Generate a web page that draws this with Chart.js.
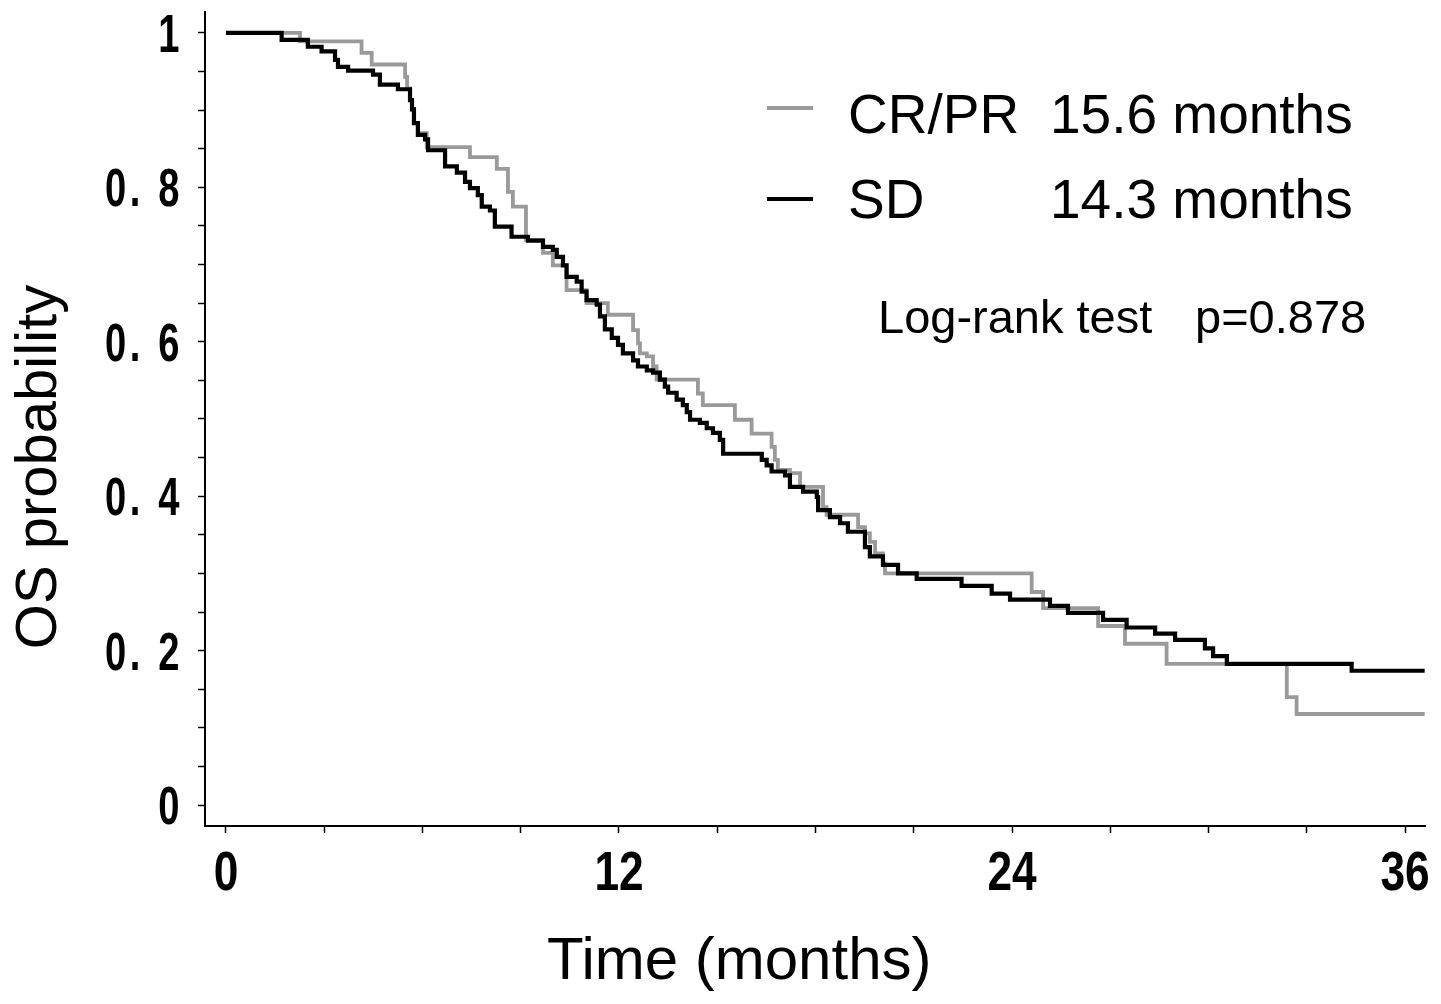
<!DOCTYPE html>
<html><head><meta charset="utf-8">
<script src="https://cdn.jsdelivr.net/npm/chart.js@4"></script>
<style>html,body{margin:0;padding:0;background:#fff}canvas{display:block}</style>
</head><body>
<canvas id="c" width="1441" height="1004"></canvas>
<script>
// ---- data ----
const crprTimes = [0, 2.26, 4.14, 4.45, 5.47, 5.53, 5.62, 5.68, 5.74, 5.86, 6.13, 7.45, 8.27, 8.61, 8.76, 9.16, 9.68, 9.98, 10.40, 11.01, 11.66, 12.43, 12.58, 12.64, 12.85, 13.04, 13.15, 14.41, 14.56, 15.54, 16.05, 16.66, 16.76, 16.85, 17.22, 17.53, 18.23, 18.34, 19.30, 19.51, 19.66, 19.82, 20.06, 20.12, 24.60, 24.95, 26.63, 27.45, 28.72, 32.39, 32.69, 36.6];
const crprSurv  = [1, 0.989, 0.974, 0.959, 0.943, 0.928, 0.913, 0.901, 0.883, 0.870, 0.852, 0.839, 0.824, 0.794, 0.775, 0.732, 0.715, 0.699, 0.667, 0.650, 0.635, 0.615, 0.598, 0.585, 0.581, 0.568, 0.551, 0.533, 0.518, 0.499, 0.481, 0.464, 0.447, 0.434, 0.430, 0.412, 0.386, 0.376, 0.360, 0.352, 0.341, 0.326, 0.313, 0.300, 0.276, 0.255, 0.232, 0.209, 0.183, 0.140, 0.118, 0.118];

const sdTimes = [0, 1.70, 2.50, 2.92, 3.33, 3.42, 3.73, 4.49, 4.70, 5.25, 5.62, 5.68, 5.74, 5.86, 6.08, 6.17, 6.69, 7.05, 7.30, 7.45, 7.69, 7.81, 8.06, 8.21, 8.72, 9.22, 9.68, 9.98, 10.10, 10.29, 10.40, 10.71, 10.86, 11.01, 11.32, 11.42, 11.57, 11.78, 11.97, 12.12, 12.43, 12.58, 12.85, 13.04, 13.25, 13.40, 13.50, 13.76, 13.95, 14.07, 14.17, 14.47, 14.68, 14.87, 15.08, 15.18, 16.36, 16.51, 16.66, 17.07, 17.22, 17.62, 18.04, 18.08, 18.44, 18.75, 18.99, 19.51, 19.66, 20.06, 20.52, 21.09, 22.46, 23.38, 23.94, 25.16, 25.71, 26.78, 27.50, 28.37, 28.98, 29.89, 30.14, 30.56, 34.37, 36.6];
const sdSurv  = [1, 0.991, 0.982, 0.976, 0.965, 0.956, 0.951, 0.946, 0.933, 0.927, 0.913, 0.901, 0.883, 0.868, 0.862, 0.848, 0.827, 0.819, 0.807, 0.799, 0.790, 0.775, 0.770, 0.749, 0.736, 0.731, 0.723, 0.719, 0.710, 0.699, 0.684, 0.678, 0.665, 0.654, 0.648, 0.633, 0.616, 0.605, 0.596, 0.585, 0.576, 0.568, 0.563, 0.560, 0.551, 0.542, 0.534, 0.525, 0.518, 0.509, 0.499, 0.495, 0.488, 0.482, 0.473, 0.455, 0.447, 0.440, 0.432, 0.427, 0.412, 0.406, 0.399, 0.382, 0.373, 0.365, 0.354, 0.334, 0.322, 0.311, 0.300, 0.293, 0.284, 0.274, 0.266, 0.258, 0.249, 0.240, 0.230, 0.222, 0.214, 0.203, 0.193, 0.183, 0.174, 0.174];

const seriesNames = ['CR/PR', 'SD'];
const seriesMedians = ['15.6 months', '14.3 months'];
const testLabel = 'Log-rank test';
const pValueLabel = 'p=0.878';

const xTicks = [0, 3, 6, 9, 12, 15, 18, 21, 24, 27, 30, 33, 36];
const xMajorTicks = [0, 12, 24, 36];
const xTickLabels = ['0', '12', '24', '36'];
const yTicks = [0, 0.05, 0.1, 0.15, 0.2, 0.25, 0.3, 0.35, 0.4, 0.45, 0.5, 0.55, 0.6, 0.65, 0.7, 0.75, 0.8, 0.85, 0.9, 0.95, 1];
const yMajorTicks = [0, 0.2, 0.4, 0.6, 0.8, 1];
const yTickLabels = ['0', '0. 2', '0. 4', '0. 6', '0. 8', '1'];
const xTitle = 'Time (months)';
const yTitle = 'OS probability';

// ---- styling ----
const GRAY = '#9a9a9a';
const BLACK = '#000000';
const SANS = '"Liberation Sans", Arial, Helvetica, sans-serif';

const toXY = (ts, ss) => ts.map((t, i) => ({ x: t, y: ss[i] }));

// condensed tick labels, positioned by the chart's own scales
const narrowTickLabels = {
  id: 'narrowTickLabels',
  afterDraw(chart) {
    const c = chart.ctx, xs = chart.scales.x, ys = chart.scales.y;
    c.save();
    c.fillStyle = '#000';
    c.textBaseline = 'alphabetic';
    c.font = 'bold 56px ' + SANS;
    c.textAlign = 'center';
    xMajorTicks.forEach((v, i) => {
      c.save();
      c.translate(xs.getPixelForValue(v), xs.top + 64);
      c.scale(0.79, 1);
      c.fillText(xTickLabels[i], 0, 0);
      c.restore();
    });
    c.font = 'bold 53px ' + SANS;
    c.textAlign = 'right';
    if ('letterSpacing' in c) c.letterSpacing = '5px';
    yMajorTicks.forEach((v, i) => {
      c.save();
      c.translate(ys.right - 22, ys.getPixelForValue(v) + 19);
      c.scale(0.72, 1);
      c.fillText(yTickLabels[i], 0, 0);
      c.restore();
    });
    c.restore();
  }
};

const annotations = {
  id: 'annotations',
  afterDraw(chart) {
    const c = chart.ctx;
    c.save();
    // legend lines
    c.lineWidth = 4;
    c.strokeStyle = GRAY;
    c.beginPath(); c.moveTo(767, 108); c.lineTo(813, 108); c.stroke();
    c.strokeStyle = BLACK;
    c.beginPath(); c.moveTo(767, 199); c.lineTo(813, 199); c.stroke();
    c.fillStyle = '#000';
    c.textAlign = 'left';
    c.textBaseline = 'alphabetic';
    c.font = '55px ' + SANS;
    c.fillText(seriesNames[0], 848, 133);
    c.fillText(seriesMedians[0], 1050, 133);
    c.fillText(seriesNames[1], 848, 218);
    c.fillText(seriesMedians[1], 1050, 218);
    c.font = '47px ' + SANS;
    c.fillText(testLabel, 878, 333);
    c.fillText(pValueLabel, 1195, 333);
    // axis titles
    c.font = '60px ' + SANS;
    c.fillText(xTitle, 547, 979);
    c.translate(56, 467);
    c.rotate(-Math.PI / 2);
    c.textAlign = 'center';
    c.font = '58px ' + SANS;
    c.fillText(yTitle, 0, 0);
    c.restore();
  }
};

new Chart(document.getElementById('c'), {
  type: 'line',
  data: {
    datasets: [
      { label: seriesNames[1], data: toXY(sdTimes, sdSurv), borderColor: BLACK, borderWidth: 4.2,
        stepped: 'before', pointRadius: 0, fill: false, order: 0, borderCapStyle: 'butt', borderJoinStyle: 'miter' },
      { label: seriesNames[0], data: toXY(crprTimes, crprSurv), borderColor: GRAY, borderWidth: 3.8,
        stepped: 'before', pointRadius: 0, fill: false, order: 1, borderCapStyle: 'butt', borderJoinStyle: 'miter' }
    ]
  },
  options: {
    responsive: false,
    animation: false,
    devicePixelRatio: 1,
    layout: { padding: { top: 12, right: 16, left: 0, bottom: 0 } },
    plugins: { legend: { display: false }, tooltip: { enabled: false } },
    scales: {
      x: {
        type: 'linear', min: -0.64, max: 36.61,
        afterBuildTicks: s => { s.ticks = xTicks.map(v => ({ value: v })); },
        afterFit: s => { s.height = 178; s.paddingLeft = 0; s.paddingRight = 0; },
        grid: { drawOnChartArea: false, tickLength: 7, tickColor: '#000', tickWidth: 1.5 },
        border: { color: '#000', width: 2 },
        ticks: { display: false, autoSkip: false }
      },
      y: {
        type: 'linear', min: -0.027, max: 1.027,
        afterBuildTicks: s => { s.ticks = yTicks.map(v => ({ value: v })); },
        afterFit: s => { s.width = 205; s.paddingTop = 0; s.paddingBottom = 0; },
        grid: { drawOnChartArea: false, tickLength: 7, tickColor: '#000', tickWidth: 1.5 },
        border: { color: '#000', width: 2 },
        ticks: { display: false, autoSkip: false }
      }
    }
  },
  plugins: [narrowTickLabels, annotations]
});
</script>
</body></html>
